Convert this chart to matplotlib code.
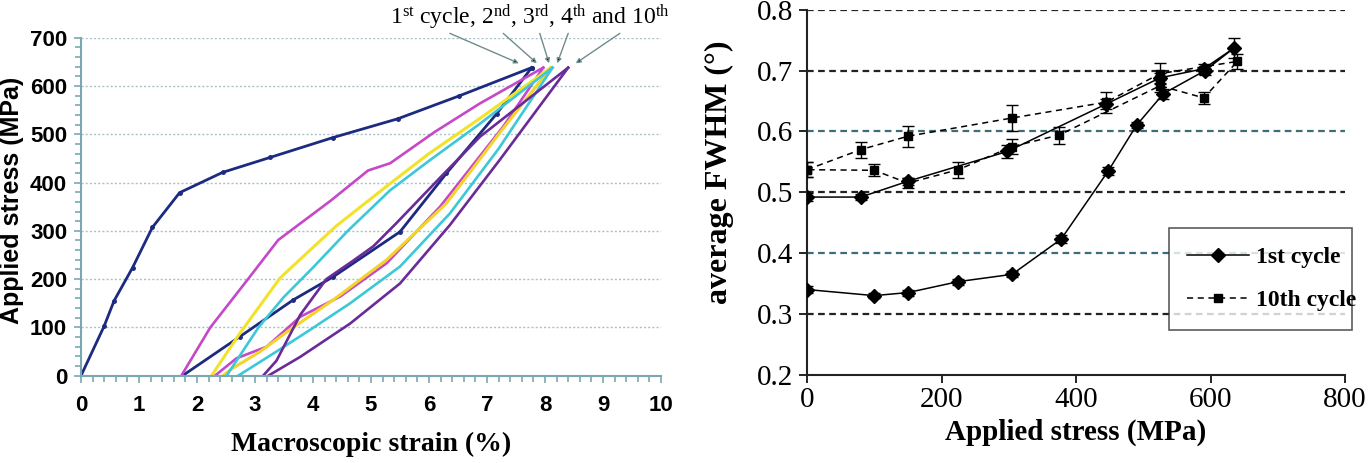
import numpy as np
import matplotlib
matplotlib.use("Agg")
from matplotlib import pyplot as plt
from matplotlib.lines import Line2D
from matplotlib.ticker import MultipleLocator, FormatStrFormatter

plt.rcParams["mathtext.fontset"] = "custom"
plt.rcParams["mathtext.rm"] = "Liberation Serif"
plt.rcParams["mathtext.it"] = "Liberation Serif:italic"

SANS = "Liberation Sans"
SERIF = "Liberation Serif"

# ---- left panel: stress-strain cycles (strain %, stress MPa)
navy_load_x = [0, 0.4, 0.57, 0.89, 1.23, 1.70, 2.44, 3.26, 4.34, 5.46, 6.51, 7.77]
navy_load_y = [0, 103, 155, 224, 307, 379, 421, 452, 493, 532, 579, 638]
navy_unload_x = [7.77, 7.17, 6.30, 5.50, 4.35, 3.66, 2.74, 1.75]
navy_unload_y = [638, 543, 419, 298, 205, 157, 81, 0]

magenta_load_x = [1.73, 2.23, 2.86, 3.40, 4.30, 4.95, 5.33, 6.10, 6.88, 7.97]
magenta_load_y = [0, 100, 197, 281, 362, 425, 440, 505, 564, 638]
magenta_unload_x = [7.97, 7.28, 6.19, 5.27, 4.47, 3.78, 3.20, 2.68, 2.31]
magenta_unload_y = [638, 516, 350, 233, 164, 122, 60, 36, 0]

yellow_load_x = [2.25, 2.74, 3.43, 3.94, 4.40, 5.33, 6.00, 6.88, 8.10]
yellow_load_y = [0, 88, 202, 259, 310, 398, 460, 533, 638]
yellow_unload_x = [8.10, 7.20, 6.30, 5.27, 4.35, 3.60, 3.09, 2.57, 2.45]
yellow_unload_y = [638, 500, 357, 240, 157, 95, 50, 12, 0]

cyan_load_x = [2.51, 3.06, 3.49, 4.00, 4.60, 5.33, 6.00, 6.88, 8.13]
cyan_load_y = [0, 100, 162, 224, 300, 384, 445, 522, 638]
cyan_unload_x = [8.13, 7.20, 6.36, 5.50, 4.64, 3.95, 3.37, 2.71]
cyan_unload_y = [638, 470, 336, 226, 150, 95, 50, 0]

purple_load_x = [3.14, 3.37, 3.78, 4.23, 4.69, 5.04, 5.43, 6.23, 6.88, 8.40]
purple_load_y = [0, 31, 126, 200, 238, 268, 315, 415, 495, 638]
purple_unload_x = [8.40, 7.22, 6.36, 5.50, 4.64, 3.78, 3.23]
purple_unload_y = [638, 447, 312, 191, 108, 39, 0]

arrow_from_x = [6.36, 7.28, 7.91, 8.40, 9.29]
arrow_to_x = [7.55, 7.86, 8.07, 8.21, 8.53]

# ---- right panel: FWHM vs applied stress
c1_load_x = [0, 100, 150, 225, 305, 378, 448, 490, 530, 592, 635]
c1_load_y = [0.340, 0.330, 0.335, 0.353, 0.365, 0.423, 0.535, 0.610, 0.662, 0.700, 0.737]
c1_unload_x = [590, 525, 445, 298, 150, 80, 0]
c1_unload_y = [0.703, 0.688, 0.645, 0.567, 0.518, 0.492, 0.492]
c1_err = [0.005, 0.004, 0.005, 0.005, 0.005, 0.006, 0.006, 0.005, 0.008, 0.008, 0.016,
          0.008, 0.008, 0.008, 0.010, 0.006, 0.005, 0.006]

c10_load_x = [0, 80, 150, 305, 445, 525, 640]
c10_load_y = [0.537, 0.570, 0.592, 0.622, 0.648, 0.695, 0.715]
c10_unload_x = [590, 525, 375, 305, 225, 150, 100, 0]
c10_unload_y = [0.655, 0.675, 0.594, 0.575, 0.537, 0.515, 0.536, 0.537]
c10_err = [0.012, 0.013, 0.017, 0.022, 0.017, 0.017, 0.013,
           0.010, 0.010, 0.014, 0.012, 0.013, 0.008, 0.010, 0.012]

fig = plt.figure(figsize=(13.71, 4.63), dpi=100)
W, H = 1371, 463

# left axes
ax1 = fig.add_axes([81 / W, 1 - 375.7 / H, 580 / W, 338 / H])
teal = "#7aa8b2"
for y in range(100, 800, 100):
    ax1.axhline(y, color="#a9c2c6", lw=1.0, ls=(0, (1.5, 1.5)), zorder=0)

ax1.plot(navy_load_x, navy_load_y, color="#1c2a80", lw=2.0, marker="o", ms=2.5)
ax1.plot(navy_unload_x, navy_unload_y, color="#1c2a80", lw=2.0, marker="o", ms=2.5)
ax1.plot(magenta_load_x, magenta_load_y, color="#c548c8", lw=1.9)
ax1.plot(magenta_unload_x, magenta_unload_y, color="#c548c8", lw=1.9)
ax1.plot(yellow_load_x, yellow_load_y, color="#f2e22a", lw=2.2)
ax1.plot(yellow_unload_x, yellow_unload_y, color="#f2d42a", lw=2.2)
ax1.plot(cyan_load_x, cyan_load_y, color="#3cc8d8", lw=1.9)
ax1.plot(cyan_unload_x, cyan_unload_y, color="#3cc8d8", lw=1.9)
ax1.plot(purple_load_x, purple_load_y, color="#6a2a98", lw=1.9)
ax1.plot(purple_unload_x, purple_unload_y, color="#6a2a98", lw=1.9)

ax1.set_xlim(0, 10)
ax1.set_ylim(0, 700)
ax1.xaxis.set_major_locator(MultipleLocator(1))
ax1.xaxis.set_minor_locator(MultipleLocator(0.2))
ax1.yaxis.set_major_locator(MultipleLocator(100))
ax1.yaxis.set_minor_locator(MultipleLocator(20))
for s in ["top", "right"]:
    ax1.spines[s].set_visible(False)
for s in ["left", "bottom"]:
    ax1.spines[s].set_color(teal)
    ax1.spines[s].set_linewidth(1.5)
ax1.tick_params(which="both", direction="out", color=teal, width=1.2)
ax1.tick_params(which="major", length=5, labelsize=16)
ax1.tick_params(axis="x", which="major", pad=9)
ax1.tick_params(axis="y", which="major", pad=5)
ax1.tick_params(which="minor", length=4)
for lab in ax1.get_xticklabels() + ax1.get_yticklabels():
    lab.set_fontfamily(SANS)
    lab.set_fontweight("bold")
ax1.set_xlabel("Macroscopic strain (%)", fontsize=20, fontfamily=SERIF,
               fontweight="bold", labelpad=11)
ax1.set_ylabel("Applied stress (MPa)", fontsize=18, fontfamily=SANS,
               fontweight="bold")
ax1.yaxis.set_label_coords(-0.098, 0.52)

ax1.text(7.74, 742,
         r"1$^{\rm st}$ cycle, 2$^{\rm nd}$, 3$^{\rm rd}$, 4$^{\rm th}$ and 10$^{\rm th}$",
         ha="center", va="center", fontsize=17, fontfamily=SERIF, clip_on=False)
for x0, x1 in zip(arrow_from_x, arrow_to_x):
    ax1.annotate("", xy=(x1, 647), xytext=(x0, 709), annotation_clip=False,
                 arrowprops=dict(arrowstyle="-|>", color="#6f8c8c", fc="black",
                                 lw=1.0, mutation_scale=7, shrinkA=0, shrinkB=0))

# right axes
ax2 = fig.add_axes([807 / W, 1 - 374.7 / H, 538 / W, 365 / H])
for y in [0.3, 0.4, 0.5, 0.6, 0.7, 0.8]:
    col = "#3c6e78" if y in (0.4, 0.6) else "#222222"
    ax2.axhline(y, color=col, lw=1.6, ls=(0, (3, 2)), zorder=0)

c1_x = c1_load_x + c1_unload_x
c1_y = c1_load_y + c1_unload_y
c10_x = c10_load_x + c10_unload_x
c10_y = c10_load_y + c10_unload_y

ax2.errorbar(c1_x, c1_y, yerr=c1_err, color="black", lw=1.1, marker="D", ms=7,
             capsize=4, elinewidth=1.0, zorder=3)
ax2.errorbar(c10_x, c10_y, yerr=c10_err, color="black", lw=1.1, ls=(0, (4, 3)),
             marker="s", ms=6, capsize=4, elinewidth=1.0, zorder=3)

ax2.set_xlim(0, 800)
ax2.set_ylim(0.2, 0.8)
ax2.xaxis.set_major_locator(MultipleLocator(200))
ax2.yaxis.set_major_locator(MultipleLocator(0.1))
ax2.yaxis.set_major_formatter(FormatStrFormatter("%.1f"))
for s in ["top", "right"]:
    ax2.spines[s].set_visible(False)
for s in ["left", "bottom"]:
    ax2.spines[s].set_color("#222222")
    ax2.spines[s].set_linewidth(1.5)
ax2.tick_params(direction="out", length=6, width=1.2, labelsize=21)
ax2.tick_params(axis="x", pad=3)
ax2.tick_params(axis="y", pad=4)
for lab in ax2.get_xticklabels() + ax2.get_yticklabels():
    lab.set_fontfamily(SERIF)
ax2.set_xlabel("Applied stress (MPa)", fontsize=21, fontfamily=SERIF,
               fontweight="bold", labelpad=4)
ax2.set_ylabel("average FWHM (°)", fontsize=23, fontfamily=SERIF,
               fontweight="bold")
ax2.yaxis.set_label_coords(-0.135, 0.555)

handles = [
    Line2D([], [], color="black", lw=1.1, marker="D", ms=7),
    Line2D([], [], color="black", lw=1.1, ls=(0, (4, 3)), marker="s", ms=6),
]
leg = ax2.legend(handles, ["1st cycle", "10th cycle"], loc="lower left",
                 bbox_to_anchor=(0.65, 0.09, 0.385, 0.297), mode="expand",
                 frameon=True, fancybox=False, handlelength=2.6, handletextpad=0.3,
                 borderpad=0.8, labelspacing=0.9,
                 prop=dict(family=SERIF, weight="bold", size=17))
leg.get_frame().set_edgecolor("#333333")
leg.get_frame().set_linewidth(1.2)
leg.set_clip_on(False)

fig.savefig("out.png", dpi=100)
